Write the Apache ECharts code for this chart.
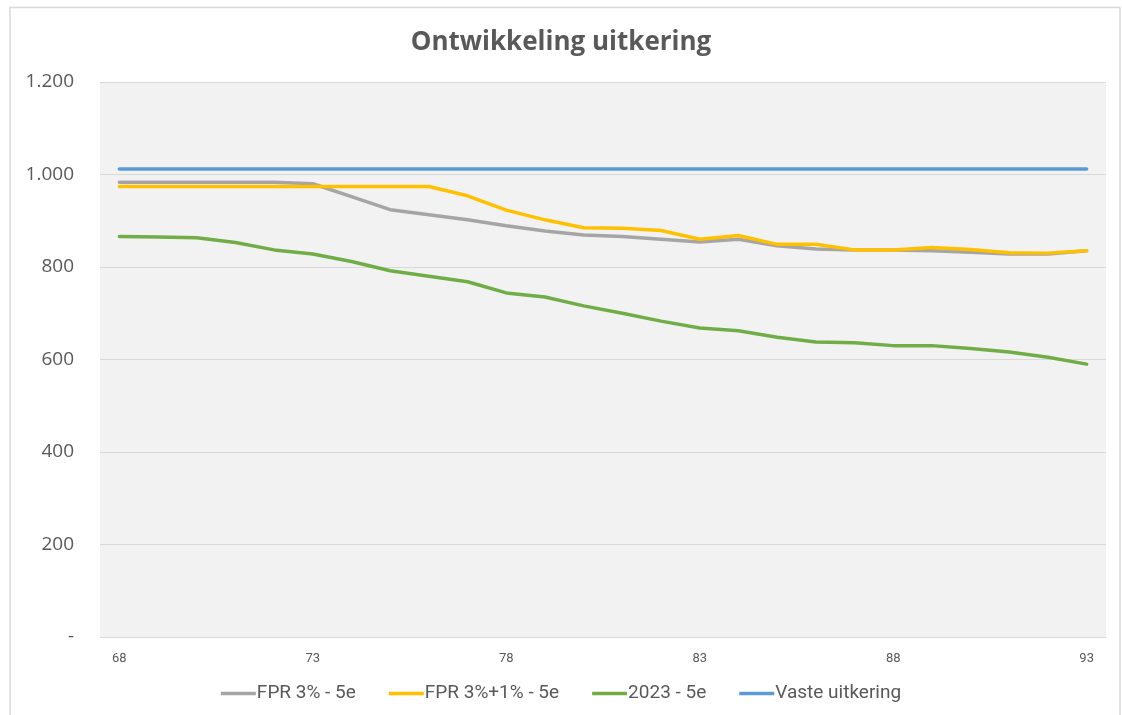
<!DOCTYPE html>
<html>
<head>
<meta charset="utf-8">
<script src="https://cdn.jsdelivr.net/npm/echarts@6/dist/echarts.min.js"></script>
<style>
  html, body { margin: 0; padding: 0; background: #ffffff; }
  #chart { width: 1122px; height: 715px; }
</style>
</head>
<body>
<div id="chart"></div>
<script>
// Leeftijden (x-as)
const ages = ['68','69','70','71','72','73','74','75','76','77','78','79','80',
              '81','82','83','84','85','86','87','88','89','90','91','92','93'];

// Uitkering per leeftijd, per scenario
const fpr3 = [983, 983, 983, 983, 983, 980, 952, 924, 913, 902, 889, 878, 869,
              866, 860, 854, 860, 846, 839, 837, 837, 835, 832, 828, 828, 835];
const fpr3plus1 = [974, 974, 974, 974, 974, 974, 974, 974, 974, 954, 923, 902, 885,
                   884, 879, 860, 868, 849, 849, 837, 837, 842, 838, 831, 830, 835];
const s2023 = [866, 865, 863, 853, 837, 828, 812, 792, 780, 768, 744, 735, 716,
               700, 683, 668, 662, 648, 638, 636, 630, 630, 624, 616, 605, 590];
const vast = [1012, 1012, 1012, 1012, 1012, 1012, 1012, 1012, 1012, 1012, 1012, 1012, 1012,
              1012, 1012, 1012, 1012, 1012, 1012, 1012, 1012, 1012, 1012, 1012, 1012, 1012];

const seriesNames = ['FPR 3% - 5e', 'FPR 3%+1% - 5e', '2023 - 5e', 'Vaste uitkering'];
const seriesColors = ['#a5a5a5', '#ffc000', '#70ad47', '#5b9bd5'];
const seriesData = [fpr3, fpr3plus1, s2023, vast];

const chart = echarts.init(document.getElementById('chart'), null, { renderer: 'canvas' });

function fmtThousands(v) {
  if (v === 0) return '-';
  return String(v).replace(/\B(?=(\d{3})+(?!\d))/g, '.');
}

const option = {
  backgroundColor: '#ffffff',
  animation: false,
  graphic: [{
    type: 'rect',
    shape: { x: 10, y: 7.5, width: 1110, height: 720 },
    style: { fill: 'none', stroke: '#d9d9d9', lineWidth: 1.5 },
    silent: true,
    z: -1
  }],
  title: {
    text: 'Ontwikkeling uitkering',
    left: 'center',
    top: 25,
    textStyle: {
      fontFamily: 'Open Sans',
      fontWeight: 'bold',
      fontSize: 26,
      color: '#595959'
    }
  },
  grid: {
    left: 100,
    right: 16,
    top: 82,
    bottom: 78,
    containLabel: false,
    show: true,
    backgroundColor: '#f2f2f2',
    borderWidth: 0
  },
  legend: {
    data: seriesNames,
    bottom: 7,
    left: 'center',
    icon: 'rect',
    itemWidth: 35,
    itemHeight: 3.5,
    itemGap: 33,
    textStyle: {
      fontFamily: 'Roboto, sans-serif',
      fontSize: 19,
      color: '#595959',
      padding: [0, 0, 0, -4]
    }
  },
  xAxis: {
    type: 'category',
    data: ages,
    boundaryGap: true,
    axisLine: { show: true, lineStyle: { color: '#d9d9d9', width: 1 } },
    axisTick: { show: false },
    axisLabel: {
      interval: 4,
      margin: 15,
      fontFamily: 'Roboto, sans-serif',
      fontSize: 13,
      color: '#595959'
    },
    splitLine: { show: false }
  },
  yAxis: {
    type: 'value',
    min: 0,
    max: 1200,
    interval: 200,
    axisLine: { show: false },
    axisTick: { show: false },
    axisLabel: {
      margin: 26,
      fontFamily: 'Open Sans',
      fontSize: 19,
      color: '#595959',
      formatter: fmtThousands
    },
    splitLine: { show: true, lineStyle: { color: '#d9d9d9', width: 1 } }
  },
  series: seriesNames.map((name, i) => ({
    name: name,
    type: 'line',
    data: seriesData[i],
    showSymbol: false,
    symbol: 'none',
    lineStyle: { color: seriesColors[i], width: 3.5, cap: 'round', join: 'round' },
    itemStyle: { color: seriesColors[i] }
  }))
};

chart.setOption(option);
</script>
</body>
</html>
